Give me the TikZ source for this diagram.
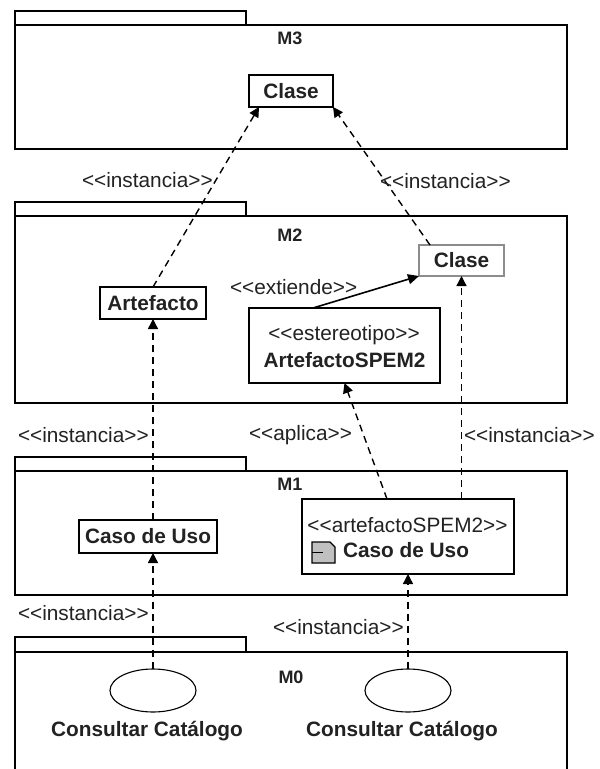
\documentclass[tikz,border=0pt]{standalone}
\usepackage{fontspec}
\setmainfont{Liberation Sans}
\usetikzlibrary{arrows.meta,calc,shapes.geometric}
\definecolor{ink}{HTML}{222222}
\definecolor{iconfill}{HTML}{C0C0C0}
\definecolor{softedge}{HTML}{8C8C8C}
\newcommand{\stereo}[1]{<{}<#1>{}>}
\tikzset{
  pkg/.style={draw=black,line width=1.6pt,fill=white,inner sep=0pt,outer sep=0pt},
  classbox/.style={draw=black,line width=1.3pt,fill=white,inner sep=0pt,outer sep=0pt,text=ink,font=\fontsize{20.8}{24}\selectfont\bfseries},
  usecase/.style={draw=black,line width=1.1pt,fill=white,ellipse,inner sep=0pt,outer sep=0pt,minimum width=86pt,minimum height=43pt},
  lbl/.style={inner sep=0pt,outer sep=0pt,text=ink,font=\fontsize{20.8}{24}\selectfont},
  blbl/.style={inner sep=0pt,outer sep=0pt,text=ink,font=\fontsize{20.8}{24}\selectfont\bfseries},
  mlbl/.style={blbl,font=\fontsize{18}{22}\selectfont\bfseries},
  dep/.style={draw=black,line width=1.4pt,dash pattern=on 7pt off 5pt,-{Triangle[length=10pt,width=10pt]}},
  ext/.style={draw=black,line width=1.6pt,-{Triangle[length=11pt,width=10pt]}}
}
\begin{document}
\begin{tikzpicture}[x=1pt,y=-1pt]
\path[use as bounding box,clip] (0,0) rectangle (600,769);
\fill[white] (0,0) rectangle (600,769);
% packages
\node[pkg,minimum width=231pt,minimum height=14pt] (t3) at (130.5,18) {};
\node[pkg,minimum width=552pt,minimum height=124pt] (m3) at (291,87) {};
\node[pkg,minimum width=231pt,minimum height=14pt] (t2) at (130.5,209) {};
\node[pkg,minimum width=552pt,minimum height=187pt] (m2) at (291,309.5) {};
\node[pkg,minimum width=231pt,minimum height=14pt] (t1) at (130.5,464) {};
\node[pkg,minimum width=552pt,minimum height=124pt] (m1) at (291,533) {};
\node[pkg,minimum width=231pt,minimum height=15pt] (t0) at (130.5,644.5) {};
\node[pkg,minimum width=552pt,minimum height=130pt] (m0) at (291,717) {};
\node[mlbl] (l3) at (290,38) {M3};
\node[mlbl] (l2) at (290,235) {M2};
\node[mlbl] (l1) at (290,484) {M1};
\node[mlbl] (l0) at (291,677) {M0};
% classes
\node[classbox,minimum width=84pt,minimum height=32pt] (c3) at (291,91) {Clase};
\node[classbox,draw=softedge,minimum width=85pt,minimum height=31pt] (c2) at (461.5,260.5) {Clase};
\node[classbox,minimum width=106pt,minimum height=32pt] (art) at (153,303) {Artefacto};
\node[classbox,minimum width=191pt,minimum height=75pt] (est) at (344.5,345.5) {};
\node[lbl] (estA) at (344,335) {\stereo{estereotipo}};
\node[blbl] (estB) at (344.5,360) {ArtefactoSPEM2};
\node[classbox,minimum width=138pt,minimum height=33pt] (caso) at (148,536.5) {Caso de Uso};
\node[classbox,minimum width=212pt,minimum height=75pt] (spem) at (408,536.5) {};
\node[lbl] (spemA) at (407.5,525) {\stereo{artefactoSPEM2}};
\node[blbl,anchor=west] (spemB) at (343,550) {Caso de Uso};
% icon
\draw[black,line width=1.1pt,fill=iconfill] (312,542) -- (330,542) -- (335,547) -- (335,563) -- (312,563) -- cycle;
\draw[black,line width=1pt] (312,552.5) -- (323,552.5);
% use cases
\node[usecase] (u1) at (153,690.5) {};
\node[usecase] (u2) at (408,690.5) {};
\node[blbl] (n1) at (147,731) {Consultar Catálogo};
\node[blbl] (n2) at (402,731) {Consultar Catálogo};
% connectors
\draw[dep] (art.north) -- ($(c3.south west)+(10,0)$);
\draw[dep] ($(c2.north west)+(11,0)$) -- (c3.south east);
\draw[ext] ($(est.north west)+(64,0)$) -- (c2.south west);
\draw[dep] (art.south |- caso.north) -- (art.south);
\draw[dep] ($(spem.north west)+(85,0)$) -- (est.south);
\draw[dep] (c2.south |- spem.north) -- (c2.south);
\draw[dep] (u1.north) -- (u1.north |- caso.south);
\draw[dep] (u2.north) -- (spem.south);
% labels
\node[lbl,anchor=west] (i1) at (82,180) {\stereo{instancia}};
\node[lbl,anchor=west] (i2) at (380,181) {\stereo{instancia}};
\node[lbl,anchor=west] (e1) at (230,287) {\stereo{extiende}};
\node[lbl,anchor=west] (i3) at (18,435) {\stereo{instancia}};
\node[lbl,anchor=west] (a1) at (249,435) {\stereo{aplica}};
\node[lbl,anchor=west] (i4) at (464,435) {\stereo{instancia}};
\node[lbl,anchor=west] (i5) at (18,613) {\stereo{instancia}};
\node[lbl,anchor=west] (i6) at (273,627) {\stereo{instancia}};
\end{tikzpicture}
\end{document}
